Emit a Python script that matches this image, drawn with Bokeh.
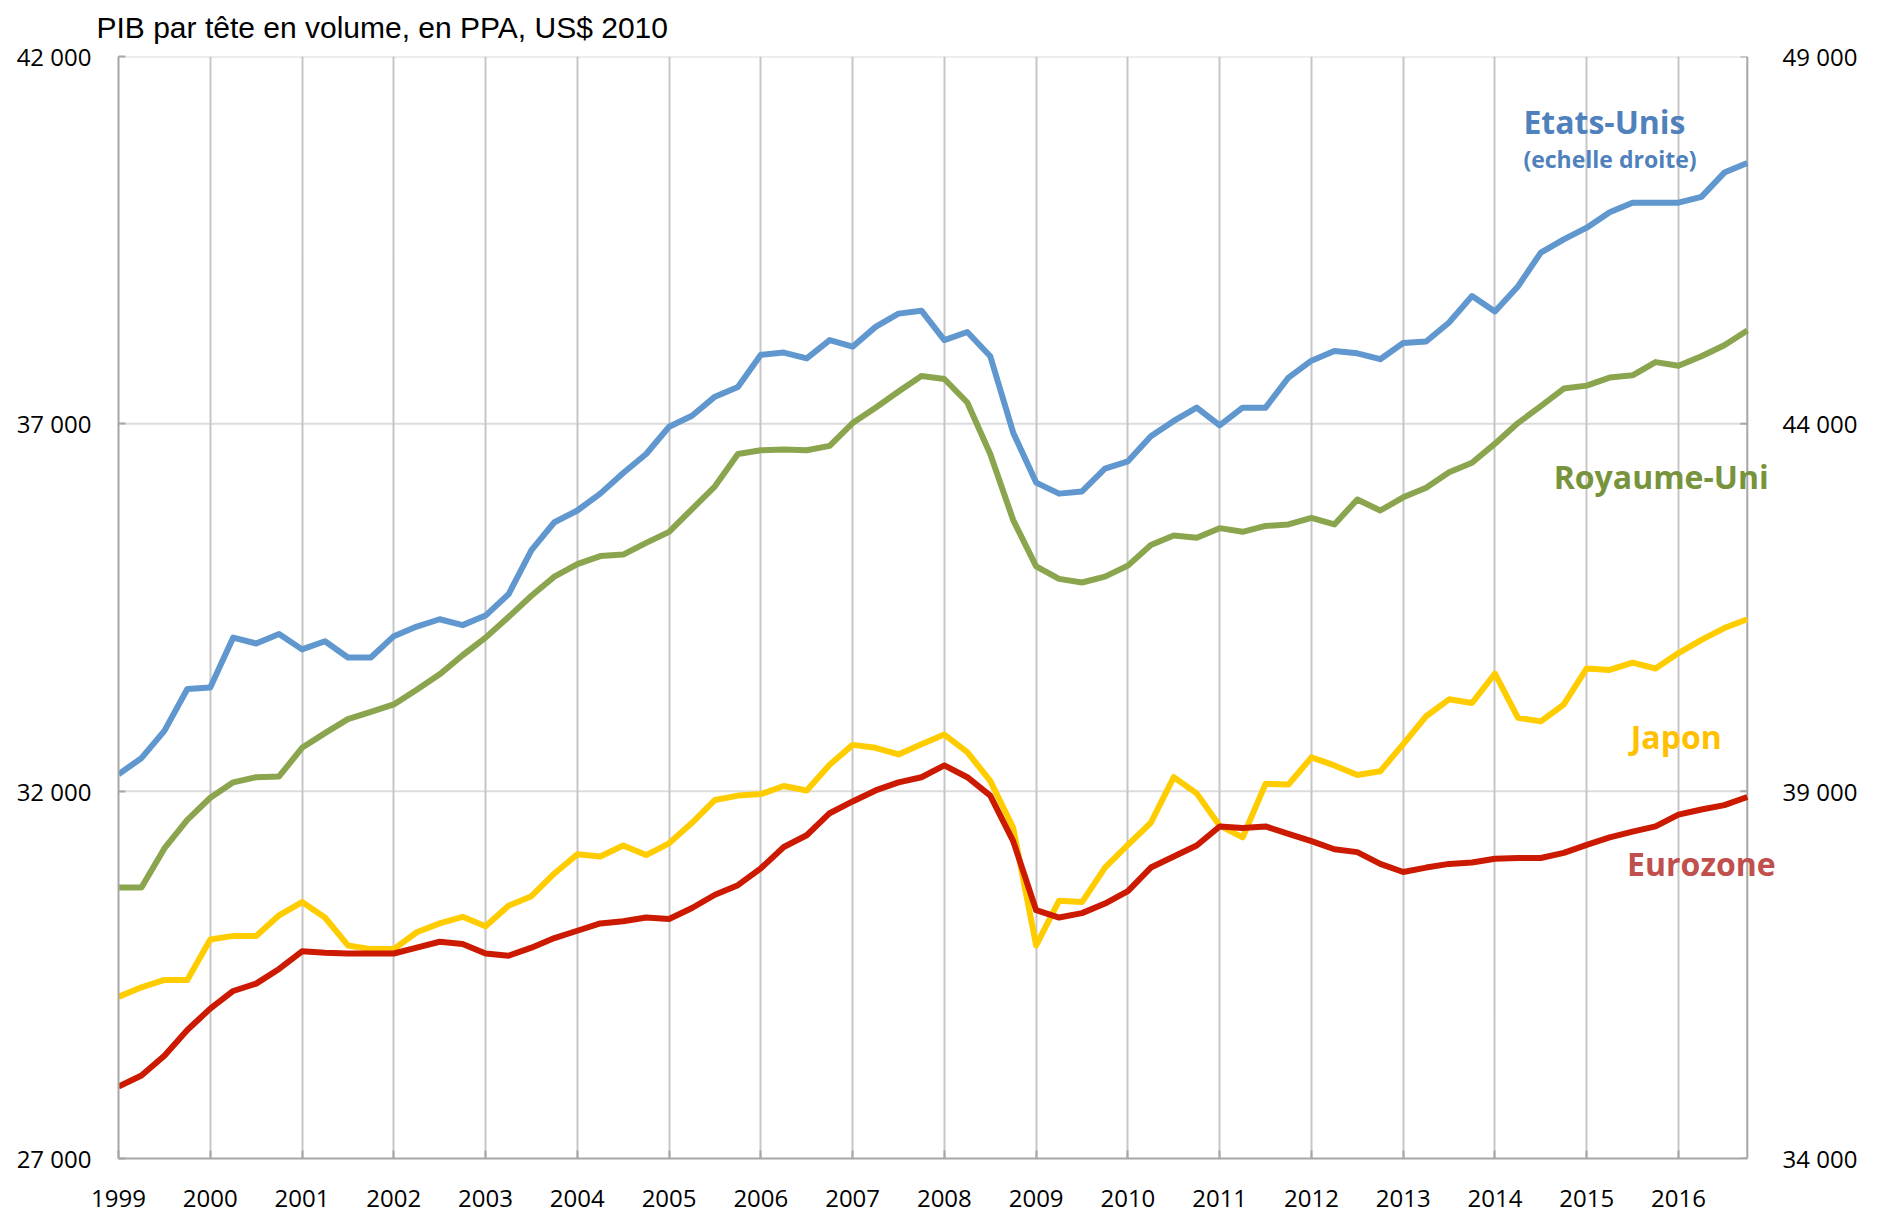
import math
from bokeh.plotting import figure
from bokeh.models import Range1d, LinearAxis, FixedTicker, Label
from bokeh.embed import file_html
from bokeh.resources import INLINE

# ---- data (quarterly, 1999Q1 .. 2016Q4) ----
quarters = [f"{y}Q{q}" for y in range(1999, 2017) for q in range(1, 5)]
years = list(range(1999, 2017))

etats_unis = [39230, 39450, 39820, 40390, 40410, 41090, 41010, 41140,
              40930, 41040, 40820, 40820, 41110, 41240, 41340, 41260,
              41390, 41680, 42280, 42660, 42820, 43050, 43330, 43590,
              43960, 44110, 44370, 44500, 44940, 44970, 44890, 45140,
              45050, 45320, 45500, 45540, 45140, 45250, 44920, 43880,
              43200, 43050, 43080, 43390, 43490, 43830, 44040, 44220,
              43980, 44220, 44220, 44630, 44860, 44990, 44960, 44880,
              45100, 45120, 45380, 45740, 45530, 45870, 46330, 46510,
              46670, 46880, 47010, 47010, 47010, 47090, 47420, 47550]

royaume_uni = [30690, 30690, 31220, 31610, 31910, 32120, 32190, 32200,
               32590, 32790, 32980, 33080, 33180, 33380, 33590, 33850,
               34090, 34370, 34660, 34920, 35090, 35200, 35220, 35380,
               35530, 35840, 36150, 36590, 36640, 36650, 36640, 36700,
               37010, 37220, 37440, 37650, 37610, 37290, 36590, 35690,
               35060, 34890, 34840, 34920, 35070, 35350, 35480, 35450,
               35580, 35530, 35610, 35630, 35720, 35630, 35970, 35820,
               36000, 36130, 36340, 36470, 36730, 37010, 37240, 37480,
               37520, 37630, 37660, 37840, 37790, 37920, 38070, 38270]

japon = [29200, 29330, 29430, 29430, 29980, 30030, 30030, 30310,
         30490, 30280, 29900, 29850, 29850, 30080, 30200, 30290,
         30160, 30440, 30570, 30880, 31140, 31110, 31260, 31130,
         31290, 31570, 31880, 31940, 31960, 32070, 32010, 32360,
         32630, 32590, 32500, 32640, 32770, 32530, 32140, 31500,
         29900, 30510, 30490, 30960, 31270, 31570, 32190, 31970,
         31530, 31370, 32100, 32090, 32460, 32350, 32220, 32270,
         32640, 33020, 33250, 33200, 33600, 33000, 32950, 33180,
         33670, 33650, 33750, 33670, 33880, 34060, 34220, 34340]

eurozone = [27980, 28130, 28400, 28750, 29040, 29280, 29380, 29580,
            29820, 29800, 29790, 29790, 29790, 29870, 29950, 29920,
            29790, 29760, 29870, 30000, 30100, 30200, 30230, 30280,
            30260, 30410, 30590, 30720, 30950, 31240, 31400, 31700,
            31860, 32010, 32120, 32190, 32350, 32190, 31940, 31320,
            30380, 30280, 30340, 30470, 30640, 30960, 31110, 31260,
            31520, 31500, 31520, 31420, 31320, 31210, 31170, 31010,
            30900, 30960, 31010, 31030, 31080, 31090, 31090, 31160,
            31270, 31370, 31450, 31520, 31680, 31750, 31810, 31920]

left_ticks = [27000, 32000, 37000, 42000]
right_ticks = [34000, 39000, 44000, 49000]
title_text = "PIB par tête en volume, en PPA, US$ 2010"

# quarter -> decimal year position
x = [int(q[:4]) + (int(q[-1]) - 1) / 4 for q in quarters]
x_first, x_last = x[0], x[-1]

def fmt(v):
    return f"{v:,}".replace(",", " ")

W, H = 1875, 1217
FRAME_L, FRAME_T, FRAME_B = 118, 55, 1158
FRAME_R = 1778          # frame extends a little past the right axis so labels are not clipped
x_pad = 0.34            # extra years beyond the last quarter (space for the labels)

p = figure(width=W, height=H, output_backend="svg", toolbar_location=None,
           x_range=Range1d(x_first, x_last + x_pad),
           y_range=Range1d(left_ticks[0], left_ticks[-1]),
           min_border_left=FRAME_L, min_border_right=W - FRAME_R,
           min_border_top=FRAME_T, min_border_bottom=H - FRAME_B)
p.extra_y_ranges = {"us": Range1d(right_ticks[0], right_ticks[-1])}
p.outline_line_color = None
p.background_fill_color = "white"

p.title.text = title_text
p.title.text_font = "Liberation Sans"
p.title.text_font_size = "30px"
p.title.text_font_style = "normal"
p.title.text_color = "black"
p.title.align = "left"
p.title.vertical_align = "top"
p.title.offset = -22
p.title.standoff = 21

axis_col = "#A6A6A6"
tick_font = "Open Sans"

# x axis
xa = p.xaxis[0]
xa.ticker = FixedTicker(ticks=years)
xa.bounds = (x_first, x_last)
xa.major_label_overrides = {y: str(y) for y in years}
xa.minor_tick_line_color = None
xa.major_tick_in = 8
xa.major_tick_out = 0
xa.major_tick_line_color = axis_col
xa.major_tick_line_width = 2
xa.axis_line_color = axis_col
xa.axis_line_width = 2
xa.major_label_text_font = tick_font
xa.major_label_text_font_size = "24px"
xa.major_label_text_color = "black"
xa.major_label_standoff = 31

# left axis
ya = p.yaxis[0]
ya.ticker = FixedTicker(ticks=left_ticks)
ya.major_label_overrides = {v: fmt(v) for v in left_ticks}
ya.minor_tick_line_color = None
ya.major_tick_in = 7
ya.major_tick_out = 0
ya.major_tick_line_color = axis_col
ya.major_tick_line_width = 2
ya.axis_line_color = axis_col
ya.axis_line_width = 2
ya.major_label_text_font = tick_font
ya.major_label_text_font_size = "24px"
ya.major_label_text_color = "black"
ya.major_label_standoff = 27

# right axis (labels only; its line is drawn at the last quarter below)
ra = LinearAxis(y_range_name="us", ticker=FixedTicker(ticks=right_ticks))
ra.major_label_overrides = {v: fmt(v) for v in right_ticks}
ra.minor_tick_line_color = None
ra.major_tick_line_color = None
ra.axis_line_color = None
ra.major_tick_in = 0
ra.major_tick_out = 0
ra.major_label_text_font = tick_font
ra.major_label_text_font_size = "24px"
ra.major_label_text_color = "black"
ra.major_label_standoff = 4
p.add_layout(ra, "right")

# grids
p.xgrid.ticker = FixedTicker(ticks=years[1:])
p.xgrid.grid_line_color = "#C6C6C6"
p.xgrid.grid_line_width = 2
p.ygrid.visible = False
n = len(left_ticks) - 1
p.segment(x0=[x_first] * n, x1=[x_last] * n, y0=left_ticks[1:], y1=left_ticks[1:],
          line_color="#DCDCDC", line_width=2, level="underlay")

# right axis line and inward ticks at the last quarter
p.segment(x0=[x_last], x1=[x_last], y0=[left_ticks[0]], y1=[left_ticks[-1]],
          line_color=axis_col, line_width=2, level="underlay")
p.ray(x=[x_last] * len(right_ticks), y=right_ticks, y_range_name="us",
      length=7, length_units="screen", angle=math.pi,
      line_color=axis_col, line_width=2, level="underlay")

# series
lw = 6
p.line(x, etats_unis, y_range_name="us", line_color="#6097CE", line_width=lw, line_join="round")
p.line(x, royaume_uni, line_color="#8BA44E", line_width=lw, line_join="round")
p.line(x, japon, line_color="#FFCC00", line_width=lw, line_join="round")
p.line(x, eurozone, line_color="#CC1A00", line_width=lw, line_join="round")

# series labels
lab_font = "Open Sans"
def add_label(xv, yv, txt, color, size):
    p.add_layout(Label(x=xv, y=yv, text=txt, text_color=color, text_font=lab_font,
                       text_font_style="bold", text_font_size=size,
                       text_align="left", text_baseline="alphabetic"))

add_label(2014.31, 41116, "Etats-Unis", "#4F81BD", "32px")
add_label(2014.31, 40599, "(echelle droite)", "#4F81BD", "23px")
add_label(2014.64, 36288, "Royaume-Uni", "#77933C", "32px")
add_label(2015.48, 32738, "Japon", "#FFC000", "32px")
add_label(2015.44, 31011, "Eurozone", "#C0504D", "32px")

open("out.html", "w").write(file_html(p, INLINE))
